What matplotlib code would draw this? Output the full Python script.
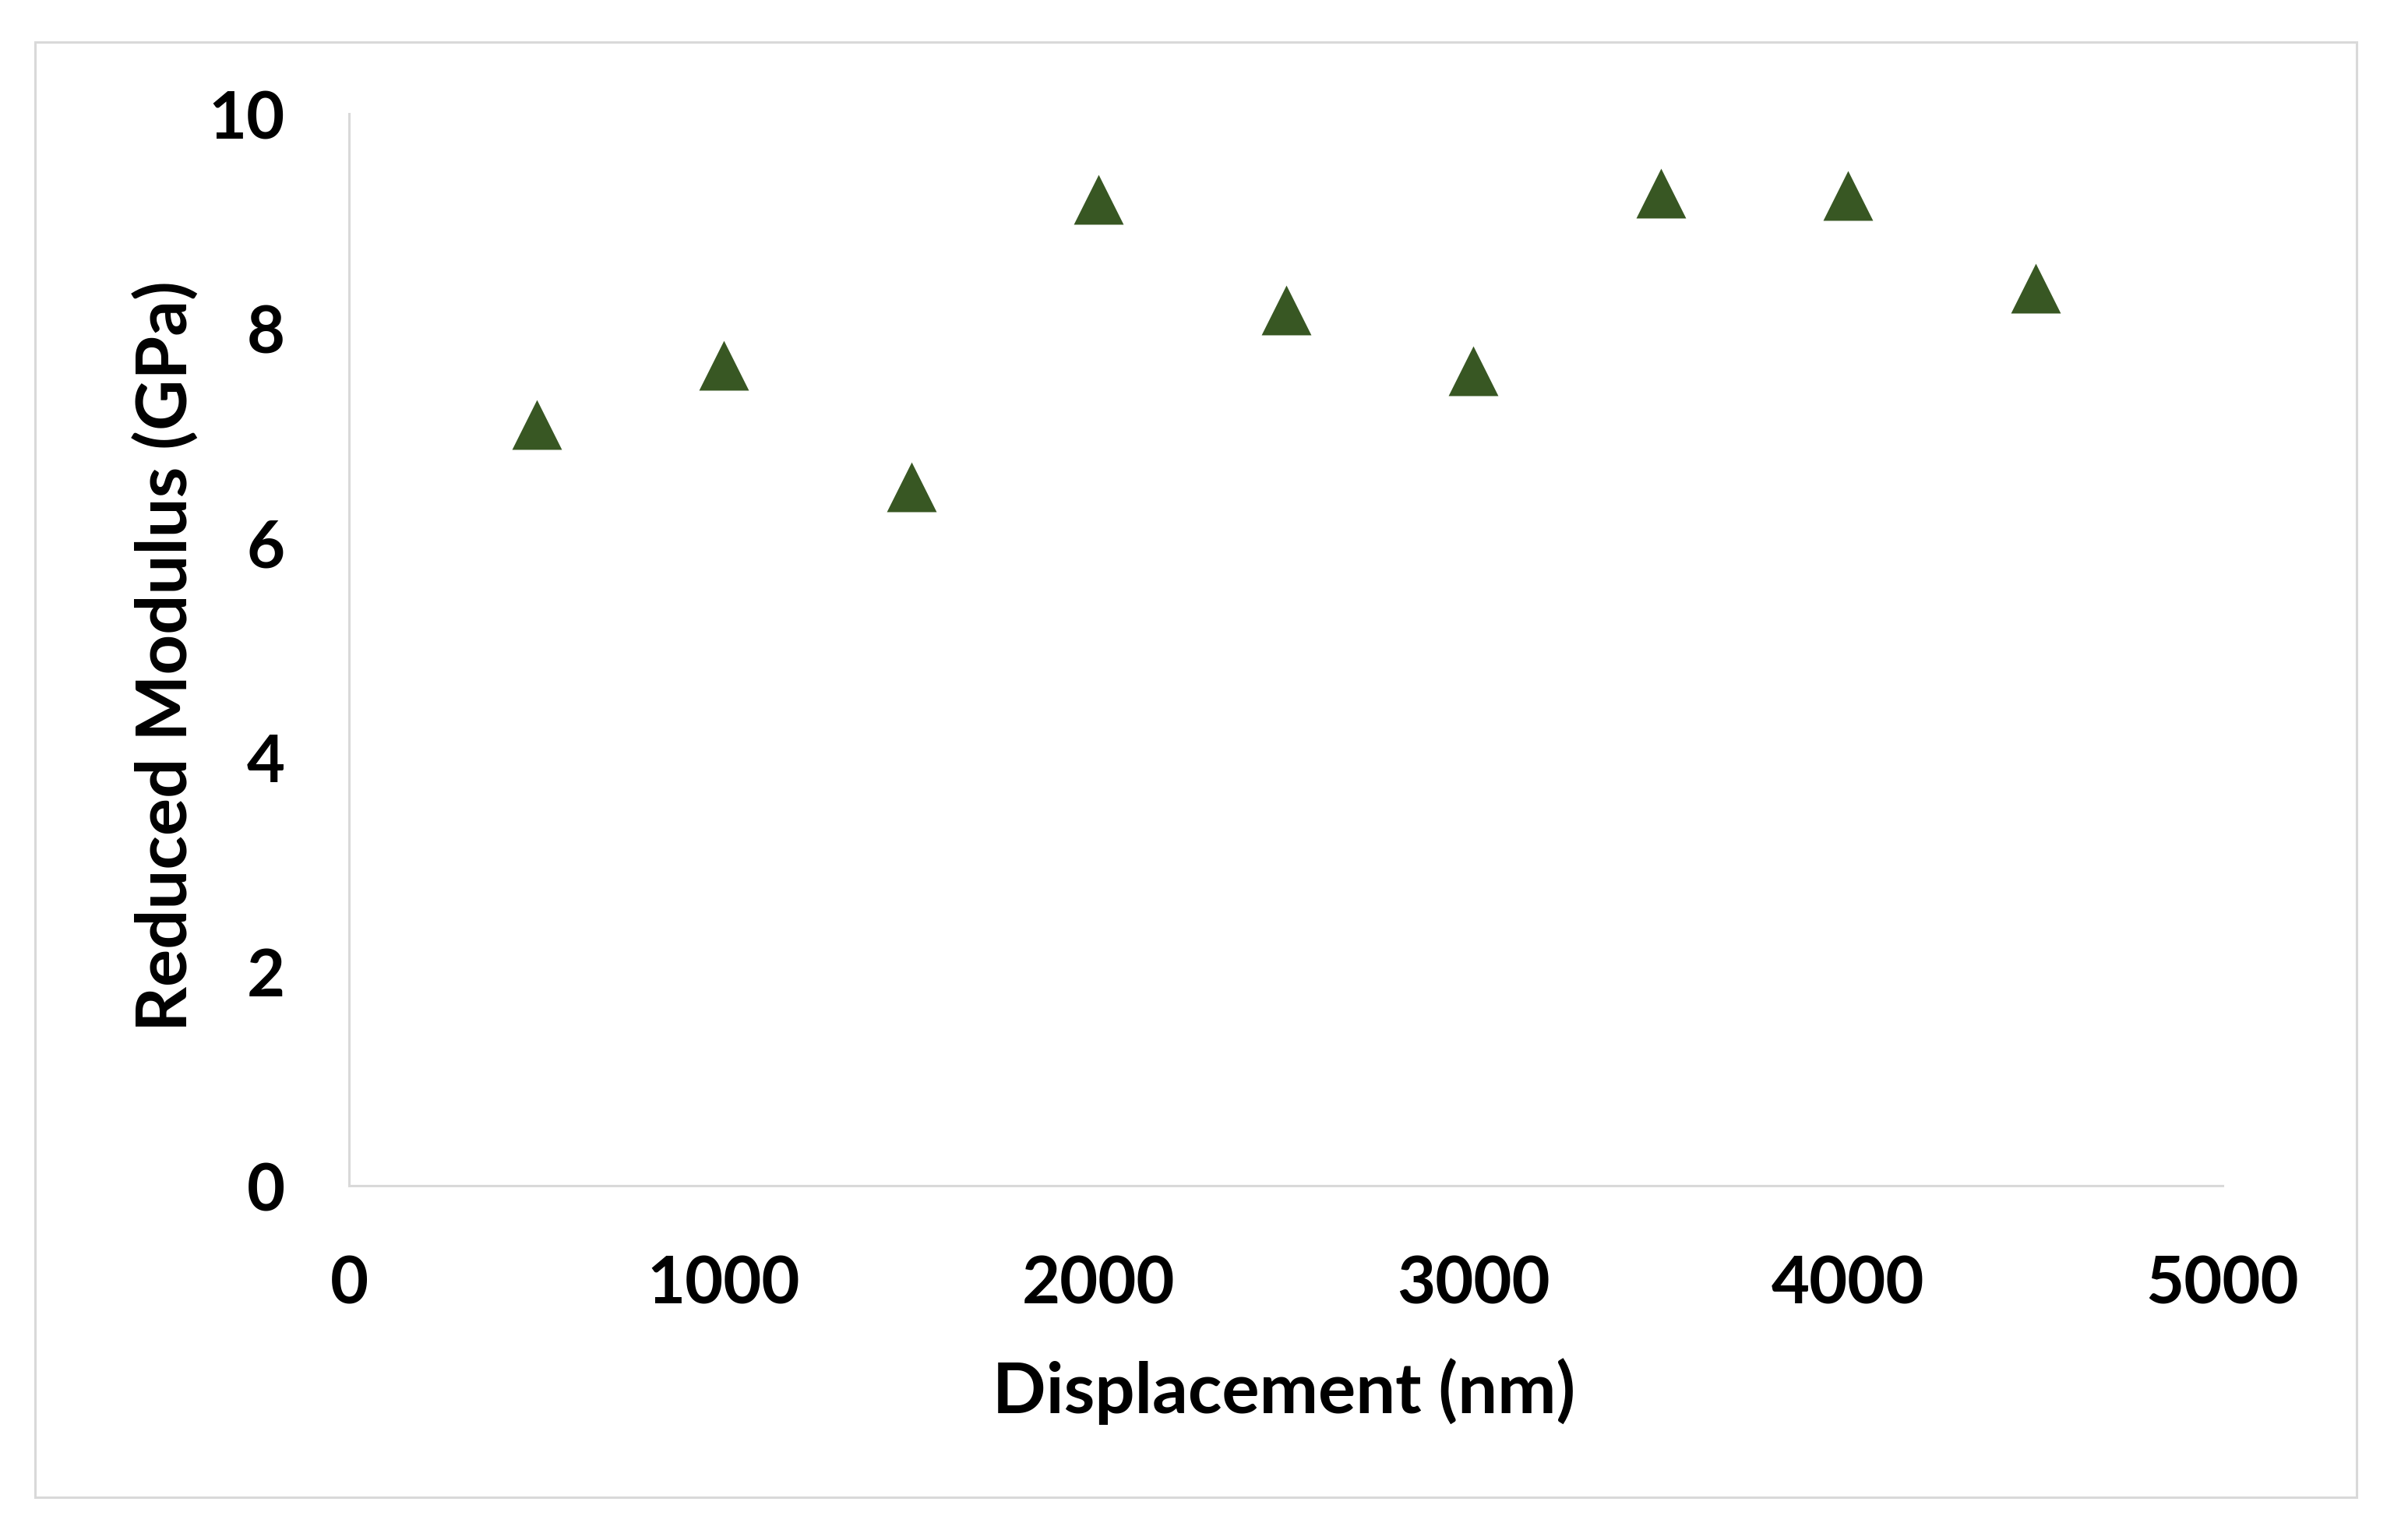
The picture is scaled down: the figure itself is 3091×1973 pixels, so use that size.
import matplotlib
matplotlib.use("Agg")
import matplotlib.pyplot as plt
from matplotlib.patches import Rectangle

displacement = [500, 1000, 1500, 2000, 2500, 3000, 3500, 4000, 4500]
modulus = [7.10, 7.65, 6.52, 9.20, 8.17, 7.60, 9.26, 9.24, 8.37]
x_ticks = [0, 1000, 2000, 3000, 4000, 5000]
y_ticks = [0, 2, 4, 6, 8, 10]

plt.rcParams['font.family'] = ['Lato', 'DejaVu Sans']
plt.rcParams['font.weight'] = 'bold'

W, H = 3091, 1974
fig = plt.figure(figsize=(W / 100, H / 100), dpi=100)
fig.patch.set_facecolor('white')

# outer border
fig.patches.append(Rectangle((45 / W, 1 - 1923 / H), (3025 - 45) / W, (1923 - 55) / H,
                             transform=fig.transFigure, fill=False,
                             edgecolor='#d9d9d9', linewidth=2.2, zorder=0))

ax = fig.add_axes([448 / W, 1 - 1523 / H, (2853 - 448) / W, (1523 - 147) / H])
ax.scatter(displacement, modulus, marker='^', s=46 ** 2, color='#385723',
           linewidths=0, zorder=3, clip_on=False)

ax.set_xlim(0, 5000)
ax.set_ylim(0, 10)
ax.set_xticks(x_ticks)
ax.set_yticks(y_ticks)
ax.set_xticklabels([str(t) for t in x_ticks])
ax.set_yticklabels([str(t) for t in y_ticks])

for s in ['top', 'right']:
    ax.spines[s].set_visible(False)
for s in ['left', 'bottom']:
    ax.spines[s].set_color('#d9d9d9')
    ax.spines[s].set_linewidth(2.2)

ax.tick_params(axis='both', length=0, labelsize=61, colors='black')
ax.tick_params(axis='y', pad=59)
ax.tick_params(axis='x', pad=63)
for lab in ax.get_xticklabels() + ax.get_yticklabels():
    lab.set_fontweight('bold')

fig.text((1277 + 2020) / 2 / W, 1 - 1786 / H, 'Displacement (nm)', ha='center', va='center',
         fontsize=65, fontweight='bold')
fig.text(213 / W, 1 - 842 / H, 'Reduced Modulus (GPa)', ha='center', va='center',
         rotation=90, fontsize=65, fontweight='bold')

fig.savefig('out.png', dpi=100, facecolor='white')
